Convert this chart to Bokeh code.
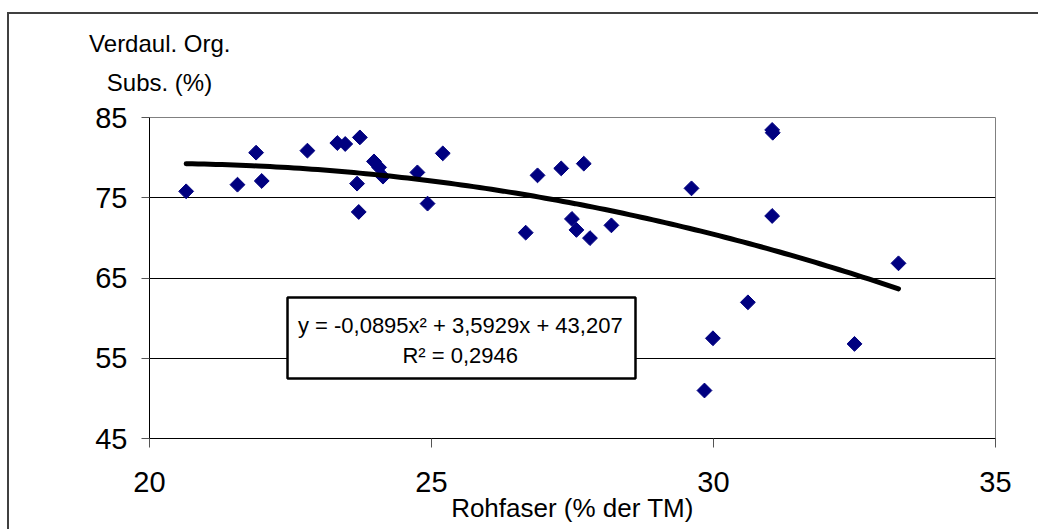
import numpy as np
from bokeh.plotting import figure
from bokeh.models import Range1d, Label, BoxAnnotation, FixedTicker, ColumnDataSource, Title
from bokeh.embed import file_html
from bokeh.resources import INLINE

# ---- data ----
rohfaser = [20.65, 21.56, 21.89, 21.99, 22.80, 23.33, 23.47, 23.73, 23.68, 23.71,
            23.98, 24.07, 24.14, 24.75, 24.93, 25.20, 26.67, 26.88, 27.30, 27.70,
            27.49, 27.57, 27.81, 28.19, 29.61, 29.84, 29.99, 30.61, 31.04, 31.05,
            31.04, 32.50, 33.28]
verdaul = [75.80, 76.63, 80.62, 77.09, 80.87, 81.82, 81.70, 82.52, 76.76, 73.23,
           79.53, 78.79, 77.63, 78.16, 74.27, 80.53, 70.65, 77.79, 78.66, 79.25,
           72.36, 70.99, 69.97, 71.56, 76.17, 50.98, 57.49, 61.97, 83.45, 83.10,
           72.73, 56.79, 66.83]
trend_coef = [-0.0895, 3.5929, 43.207]   # y = a x^2 + b x + c (shown on chart)
x_ticks = [20, 25, 30, 35]
y_ticks = [45, 55, 65, 75, 85]
eq_line1 = "y = -0,0895x\u00b2 + 3,5929x + 43,207"
eq_line2 = "R\u00b2 = 0,2946"
x_title = "Rohfaser (% der TM)"
y_title1 = "Verdaul. Org."
y_title2 = "Subs. (%)"

FONT = "Liberation Sans"

W, H = 1038, 529
p = figure(width=W, height=H, output_backend="svg", toolbar_location=None,
           x_range=Range1d(20, 35), y_range=Range1d(45, 85),
           min_border_left=149, min_border_right=W - 995, min_border_top=117,
           min_border_bottom=H - 438)
p.background_fill_color = "white"
p.border_fill_color = "white"
p.border_fill_alpha = 0.0
p.outline_line_color = "#808080"
p.outline_line_width = 1
# outer chart-area frame (left and top edge; the rest lies outside the view)
p.styles = {
    "vertical-align": "top",
    "margin-bottom": "-12px",
    "background-color": "white",
    "box-shadow": "inset 7px 12px 0 0 white, inset 9px 14px 0 0 #404040",
}

# axes
p.xaxis.ticker = FixedTicker(ticks=x_ticks)
p.yaxis.ticker = FixedTicker(ticks=y_ticks)
for ax in (p.xaxis[0], p.yaxis[0]):
    ax.axis_line_color = "black"
    ax.axis_line_width = 1
    ax.major_tick_line_color = "#555555"
    ax.major_tick_in = 0
    ax.minor_tick_line_color = None
    ax.major_label_text_font = FONT
    ax.major_label_text_font_size = "29px"
    ax.major_label_text_color = "black"
p.xaxis.major_tick_out = 9
p.yaxis.major_tick_out = 8
p.xaxis.major_label_standoff = 24
p.yaxis.major_label_standoff = 14

p.xaxis.axis_label = x_title
p.xaxis.axis_label_text_font = FONT
p.xaxis.axis_label_text_font_size = "26px"
p.xaxis.axis_label_text_font_style = "normal"
p.xaxis.axis_label_text_color = "black"
p.xaxis.axis_label_standoff = -2

p.xgrid.grid_line_color = None
p.ygrid.grid_line_color = "black"
p.ygrid.grid_line_width = 1

# y-axis title, horizontal, above the axis (two lines)
p.title.text = y_title1
p.title.align = "left"
p.title.offset = -60.4
p.title.text_font = FONT
p.title.text_font_size = "24px"
p.title.text_font_style = "normal"
p.title.text_color = "black"
p.title.standoff = -25
p.add_layout(Title(text=y_title2, align="left", offset=-42.7, text_font=FONT,
                   text_font_size="24px", text_font_style="normal",
                   text_color="black", standoff=44), "above")

# data
src = ColumnDataSource(dict(x=rohfaser, y=verdaul))
p.scatter("x", "y", source=src, marker="square", angle=np.pi / 4, size=10.5,
          fill_color="#000080", line_color="#000080")

# trend line (from the displayed polynomial)
xs = np.linspace(min(rohfaser), max(rohfaser), 120)
ys = np.polyval(trend_coef, xs)
p.line(xs, ys, line_color="black", line_width=5, line_cap="round")

# equation box
p.add_layout(BoxAnnotation(left=22.447, right=28.617, bottom=52.47, top=62.56,
                           fill_color="white", fill_alpha=1.0,
                           line_color="black", line_width=2.5, line_alpha=1.0))
for txt, yy in ((eq_line1, 59.07), (eq_line2, 55.34)):
    p.add_layout(Label(x=25.51, y=yy, text=txt, text_align="center",
                       text_baseline="alphabetic", text_font=FONT,
                       text_font_size="22px", text_color="black"))

open("out.html", "w").write(file_html(p, INLINE))
